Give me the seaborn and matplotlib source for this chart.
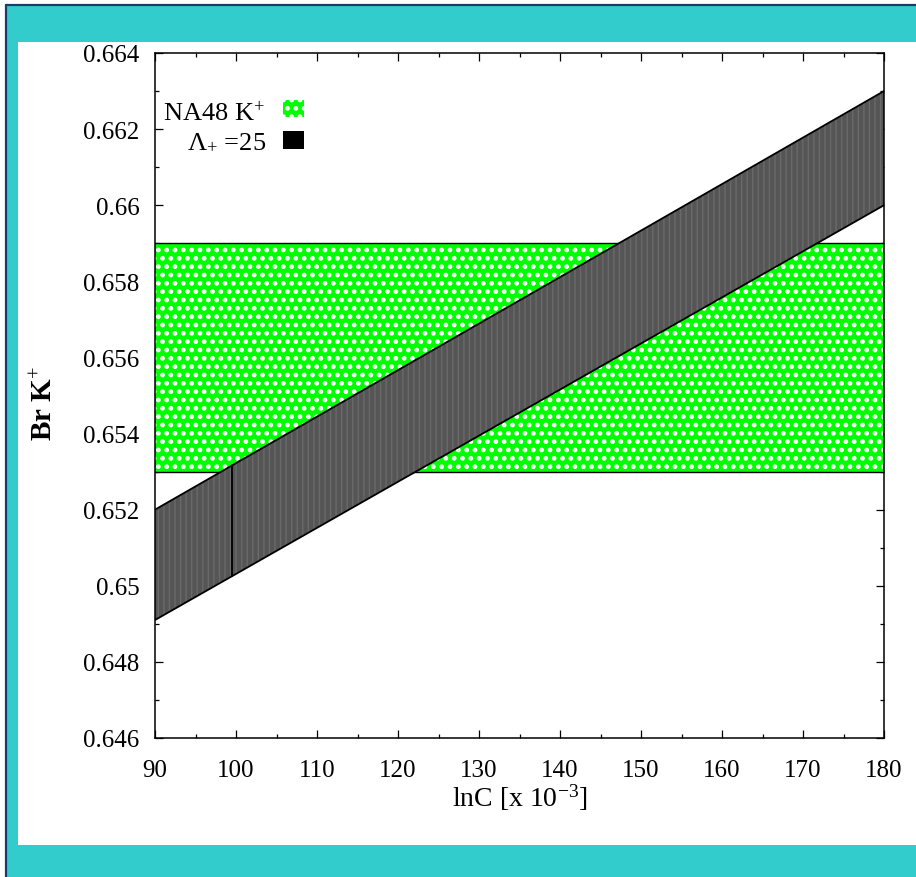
import numpy as np
import pandas as pd
import seaborn as sns
import matplotlib
matplotlib.use("Agg")
import matplotlib.pyplot as plt
from matplotlib.patches import Rectangle
from matplotlib.lines import Line2D
from matplotlib.ticker import MultipleLocator, FuncFormatter

# --- data -------------------------------------------------------------
lnC_range = [90, 180]                 # lnC [x 10^-3]
na48_low = 0.653                      # NA48 K+ measured band
na48_high = 0.659
lambda_upper = [0.652, 0.663]         # Lambda_+ = 25 prediction, upper edge
lambda_lower = [0.6491, 0.6600]       # Lambda_+ = 25 prediction, lower edge
lambda_split = 99.5                   # internal boundary of the prediction band
x_ticks = [90, 100, 110, 120, 130, 140, 150, 160, 170, 180]
y_ticks = [0.646, 0.648, 0.650, 0.652, 0.654, 0.656, 0.658, 0.660, 0.662, 0.664]
legend_labels = ["NA48 K$^{+}$", "Λ$_{+}$ =25"]

# --- style ------------------------------------------------------------
sns.set_theme(style="ticks")
plt.rcParams["font.family"] = ["Liberation Serif", "DejaVu Serif"]
plt.rcParams["mathtext.fontset"] = "custom"
plt.rcParams["mathtext.rm"] = "Liberation Serif"
plt.rcParams["mathtext.it"] = "Liberation Serif:italic"
plt.rcParams["mathtext.bf"] = "Liberation Serif:bold"
for key in ("text.color", "axes.labelcolor", "xtick.color", "ytick.color"):
    plt.rcParams[key] = "black"

CYAN = "#33CCCC"
NAVY = "#1E3A6A"
GREEN = "#00FF00"
BAND = "#555555"

fig = plt.figure(figsize=(9.16, 8.78), dpi=100)
fig.patch.set_facecolor("white")

W, H = 916.0, 878.0
# slide frame: cyan border, navy outline, white panel
fig.patches.append(Rectangle((6 / W, 0), 1, (H - 6) / H, transform=fig.transFigure,
                             facecolor=CYAN, edgecolor="none", zorder=-10))
fig.lines.append(Line2D([5.5 / W, 5.5 / W], [0, (H - 5.5) / H], transform=fig.transFigure,
                        color=NAVY, lw=1.6, zorder=-9))
fig.lines.append(Line2D([5.5 / W, 1], [(H - 5.5) / H, (H - 5.5) / H], transform=fig.transFigure,
                        color=NAVY, lw=1.6, zorder=-9))
fig.patches.append(Rectangle((18 / W, (H - 846) / H), 1, (846 - 43) / H, transform=fig.transFigure,
                             facecolor="white", edgecolor="none", zorder=-8))

ax = fig.add_axes([155 / W, (H - 739) / H, 729 / W, 685 / H])
ax.set_facecolor("white")

x = np.array(lnC_range, dtype=float)

# NA48 band: green with white dot pattern
plt.rcParams["hatch.linewidth"] = 2.2
ax.fill_between(x, na48_low, na48_high, facecolor=GREEN, edgecolor="none", zorder=1)
ax.fill_between(x, na48_low, na48_high, facecolor="none", edgecolor="white",
                hatch="..", linewidth=0, zorder=1.5)
sw_x, sw_w, sw_h = 0.1756, 0.0288, 0.0248
ax.add_patch(Rectangle((sw_x, 0.9066), sw_w, sw_h, transform=ax.transAxes,
                       facecolor=GREEN, edgecolor="none", zorder=7))
ax.add_patch(Rectangle((sw_x, 0.9066), sw_w, sw_h, transform=ax.transAxes,
                       facecolor="none", edgecolor="white", hatch="..", lw=0, zorder=7.5))
for yv in (na48_low, na48_high):
    ax.plot(x, [yv, yv], color="black", lw=1.0, zorder=2)

# Lambda_+ = 25 band: dark grey with fine vertical striping
plt.rcParams["hatch.linewidth"] = 1.0
up = np.array(lambda_upper)
lo = np.array(lambda_lower)
ax.fill_between(x, lo, up, facecolor=BAND, edgecolor="none", zorder=3)
ax.fill_between(x, lo, up, facecolor="none", edgecolor="#6a6a6a",
                hatch="|||", linewidth=0, zorder=3.5)
edges = pd.DataFrame({"lnC": np.concatenate([x, x]),
                      "Br": np.concatenate([up, lo]),
                      "edge": ["upper"] * 2 + ["lower"] * 2})
sns.lineplot(data=edges, x="lnC", y="Br", units="edge", estimator=None,
             color="black", lw=1.3, ax=ax, zorder=4, legend=False)
ax.plot([lambda_split, lambda_split],
        [np.interp(lambda_split, x, lo), np.interp(lambda_split, x, up)],
        color="black", lw=1.3, zorder=4)
ax.add_patch(Rectangle((sw_x, 0.8605), sw_w, sw_h + 0.001, transform=ax.transAxes,
                       facecolor="black", edgecolor="none", zorder=7))

# axes
ax.set_xlim(lnC_range)
ax.set_ylim(y_ticks[0], y_ticks[-1])
ax.set_xticks(x_ticks)
ax.set_yticks(y_ticks)
ax.xaxis.set_minor_locator(MultipleLocator(5))
ax.yaxis.set_minor_locator(MultipleLocator(0.001))
ax.yaxis.set_major_formatter(FuncFormatter(lambda v, p: f"{v:g}"))
ax.tick_params(which="both", direction="in", top=True, right=True, colors="black")
ax.tick_params(which="major", length=6, width=0.9, labelsize=18)
ax.tick_params(which="minor", length=3, width=0.9)
ax.tick_params(axis="x", which="major", pad=15)
ax.tick_params(axis="y", which="major", pad=11)
for s in ax.spines.values():
    s.set_visible(True)
    s.set_color("black")
    s.set_linewidth(1.1)
    s.set_zorder(6)

ax.set_xlabel("lnC [x 10$^{-3}$]", fontsize=20)
ax.set_ylabel("Br K$^{+}$", fontsize=21, fontweight="bold")
ax.xaxis.set_label_coords(0.5, -0.064)
ax.yaxis.set_label_coords(-0.133, 0.49)

# legend labels, right-aligned to the left of their swatches
ax.text(0.150, 0.9012, legend_labels[0], transform=ax.transAxes, ha="right",
        va="baseline", fontsize=19, zorder=7)
ax.text(0.153, 0.8613, legend_labels[1], transform=ax.transAxes, ha="right",
        va="baseline", fontsize=19, zorder=7)

fig.savefig("out.png", dpi=100, facecolor=fig.get_facecolor())
